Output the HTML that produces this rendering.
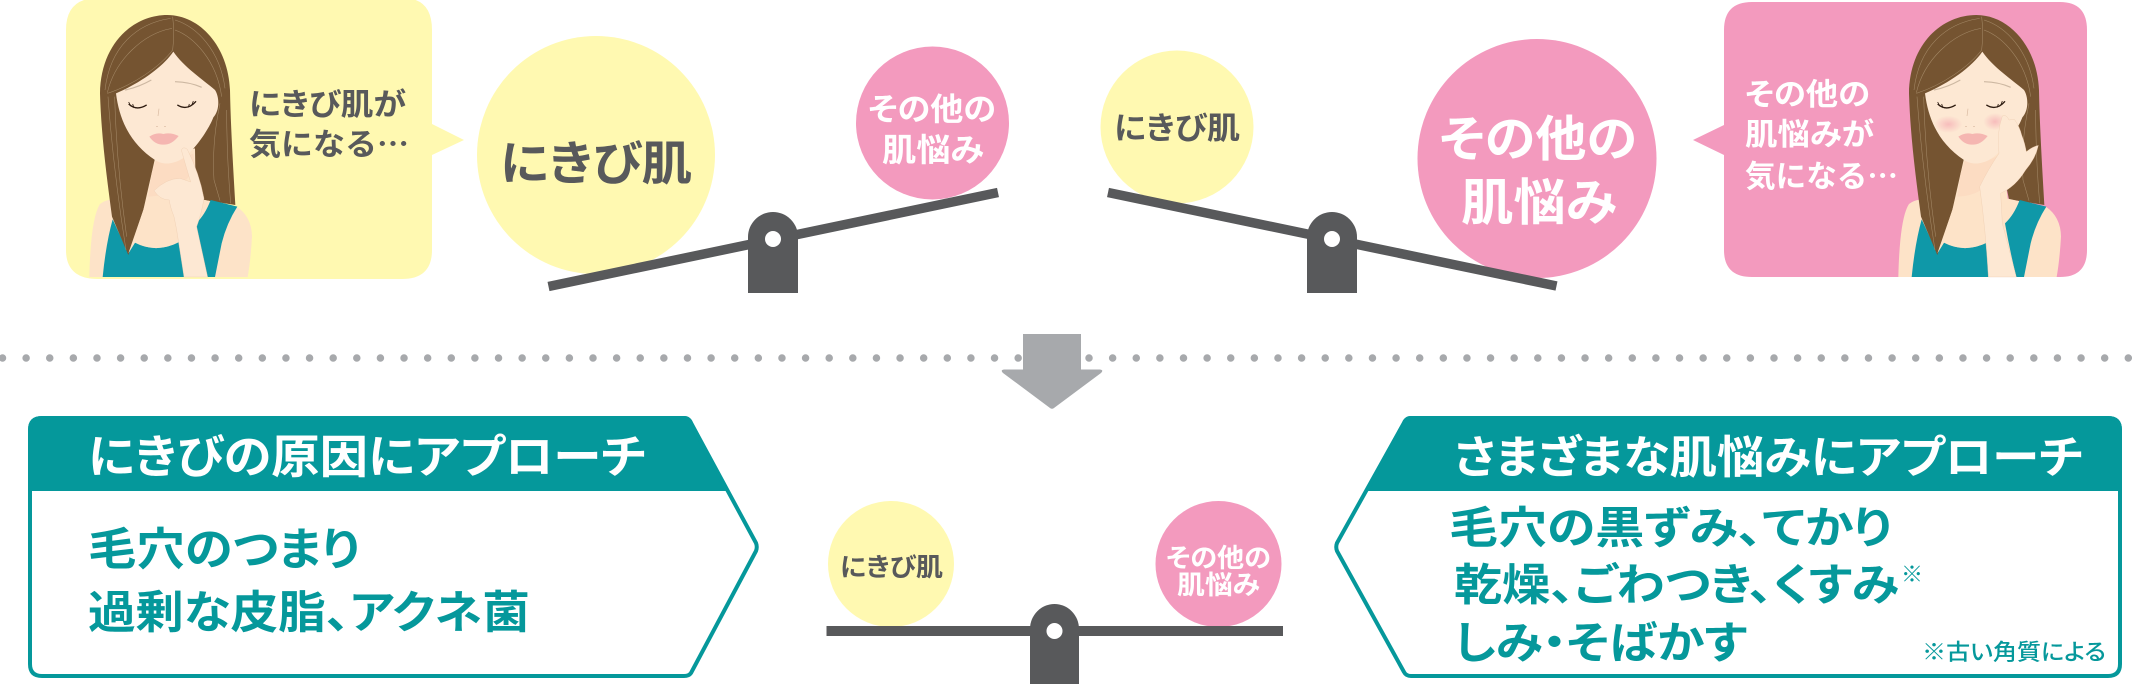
<!DOCTYPE html>
<html lang="ja"><head><meta charset="utf-8"><title>diagram</title>
<style>
html,body{margin:0;padding:0;background:#fff;width:2132px;height:684px;overflow:hidden}
svg{display:block}
text{font-family:"Liberation Sans","Noto Sans CJK JP",sans-serif;font-weight:700;font-feature-settings:"palt"}
text.c{font-family:"Noto Sans CJK JP",sans-serif}
</style></head><body>
<svg xmlns="http://www.w3.org/2000/svg" width="2132" height="684" viewBox="0 0 2132 684">
<defs>
<radialGradient id="bl"><stop offset="0" stop-color="#f5aeb4" stop-opacity=".75"/><stop offset="1" stop-color="#f5aeb4" stop-opacity="0"/></radialGradient>
<g id="base">
  <path d="M28 801 Q32 625 60 582 Q80 566 104 570 L470 590 Q515 620 516 680 Q512 750 503 801Z" fill="#fde3c8"/>
  <path d="M68 801 Q78 700 98 628 L145 730 L165 698 Q230 732 298 695 L312 801Z" fill="#0f98a8"/>
  <path d="M262 15 C160 15 62 100 60 250 C64 380 80 500 96 620 L145 735 L190 600 L225 490 L340 430 L350 520 L360 568 L466 585 C460 480 452 350 450 240 C445 110 360 15 262 15Z" fill="#755431"/>
  <path d="M225 445 L345 415 L346 480 L356 566 L394 574 L350 650 L300 695 Q230 732 165 698 L145 730 L190 600Z" fill="#fde3c8"/>
  <path d="M348 640 Q375 615 392 570 L472 590 Q440 640 425 700 L405 801 L382 801Q362 720 348 640Z" fill="#0f98a8"/>
  <path d="M228 450 Q260 475 340 430 L345 480 Q280 560 205 560 L215 490Z" fill="#fcdcc2"/>
  <path d="M280 125 C250 170 180 220 108 250 C118 330 150 400 225 450 C245 463 270 465 300 450 C345 425 390 350 400 322 C420 300 418 260 405 240 C370 210 310 170 280 125Z" fill="#fde8d3"/>
  <g fill="none" stroke="#a58a68" stroke-width="1.6">
    <path d="M272 25 C170 40 90 110 75 240"/><path d="M276 55 C190 70 105 150 82 248"/>
    <path d="M278 20 Q284 70 278 120 C240 170 160 225 82 250"/>
    <path d="M285 30 C350 50 420 120 435 235"/><path d="M285 60 C340 80 410 150 425 260"/>
    <path d="M84 260 Q100 480 138 720"/><path d="M104 260 Q110 470 140 680"/>
    <path d="M420 280 Q395 400 402 510 L420 572"/><path d="M440 300 Q440 440 452 580"/>
  </g>
  <path d="M135 240 Q175 232 214 210" fill="none" stroke="#cdb8a2" stroke-width="3.5"/>
  <path d="M285 215 Q330 216 365 232" fill="none" stroke="#cdb8a2" stroke-width="3.5"/>
  <path d="M146 282 Q170 304 200 285 M292 285 Q322 304 348 274" fill="none" stroke="#2d1b10" stroke-width="4"/>
  <path d="M146 276 L152 288 M158 282 L162 294 M340 273 L336 284 M328 282 L325 292" fill="none" stroke="#2d1b10" stroke-width="2.5"/>
  <path d="M237 296 L234 318 M228 350 h6 M252 350 h6" fill="none" stroke="#d8b9a0" stroke-width="2"/>
  <path d="M208 380 Q228 366 250 372 Q272 366 296 378 Q275 405 250 404 Q225 405 208 380Z" fill="#f5b6b1"/>
</g>
</defs>

<!-- dotted separator -->
<line x1="2.5" y1="358" x2="2132" y2="358" stroke="#a7a9ac" stroke-width="7.5" stroke-linecap="round" stroke-dasharray="0 23.62"/>

<!-- arrow -->
<path d="M1023 334 H1081 V369.5 H1100 Q1104 370 1101 373 L1054 408 Q1052 409.5 1050 408 L1003 373 Q1000 370 1004 369.5 H1023Z" fill="#a7a9ac"/>

<!-- top left box -->
<path d="M98 -2 H403 Q432 -2 432 30 V124 L464 140 L432 155 V250 Q432 279 402 279 H98 Q66 279 66 250 V30 Q66 -2 98 -2Z" fill="#fff9b1"/>
<g transform="translate(80,10) scale(.33333)">
  <use href="#base"/>
  <path d="M312 801 L290 660 L282 620 Q270 590 268 570 Q240 570 222 542 Q260 505 300 505 L332 516 Q318 470 304 420 Q310 408 322 418 Q358 490 372 565 Q365 610 350 650 L383 801Z" fill="#fde8d3" stroke="#ecc8ac" stroke-width="1"/>
</g>
<text x="249" y="115" font-size="30.5" fill="#58595b" textLength="157" lengthAdjust="spacingAndGlyphs">にきび肌が</text>
<text class="c" x="249" y="155" font-size="30.5" fill="#58595b" textLength="160" lengthAdjust="spacingAndGlyphs" style="font-feature-settings:normal">気になる…</text>

<!-- big yellow -->
<circle cx="596" cy="155" r="119" fill="#fff9b1"/>
<text x="500" y="180" font-size="47" fill="#58595b" textLength="192" lengthAdjust="spacingAndGlyphs">にきび肌</text>

<!-- seesaw 1 -->
<circle cx="932.5" cy="123" r="76.5" fill="#f39abe"/>
<text x="868" y="120" font-size="31.5" fill="#fff" textLength="128" lengthAdjust="spacingAndGlyphs">その他の</text>
<text x="882" y="161" font-size="32" fill="#fff" textLength="102" lengthAdjust="spacingAndGlyphs">肌悩み</text>
<line x1="548.5" y1="286.5" x2="998" y2="192.5" stroke="#58595b" stroke-width="9.5"/>
<path d="M748 293 V237 A25 25 0 0 1 798 237 V293Z" fill="#58595b"/>
<circle cx="773" cy="239" r="8" fill="#fff"/>

<!-- seesaw 2 -->
<circle cx="1177" cy="127" r="76.5" fill="#fff9b1"/>
<text x="1114" y="139" font-size="31" fill="#58595b" textLength="126" lengthAdjust="spacingAndGlyphs">にきび肌</text>
<circle cx="1537" cy="158.5" r="119.5" fill="#f39abe"/>
<text x="1439" y="156" font-size="49" fill="#fff" textLength="198" lengthAdjust="spacingAndGlyphs">その他の</text>
<text x="1461" y="220" font-size="50" fill="#fff" textLength="156" lengthAdjust="spacingAndGlyphs">肌悩み</text>
<line x1="1108" y1="192.5" x2="1556.5" y2="286" stroke="#58595b" stroke-width="9.5"/>
<path d="M1307 293 V237 A25 25 0 0 1 1357 237 V293Z" fill="#58595b"/>
<circle cx="1332" cy="239" r="8" fill="#fff"/>

<!-- top right box -->
<path d="M1752 2 H2060 Q2087 2 2087 30 V250 Q2087 277 2060 277 H1752 Q1724 277 1724 250 V155 L1693 140 L1724 125 V30 Q1724 2 1752 2Z" fill="#f39abe"/>
<g transform="translate(1889,10) scale(.33333)">
  <use href="#base"/>
  <ellipse cx="178" cy="343" rx="42" ry="26" fill="url(#bl)"/>
  <ellipse cx="318" cy="335" rx="35" ry="26" fill="url(#bl)"/>
  <path d="M298 801 Q290 660 272 530 Q296 480 330 430 Q322 370 340 318 Q352 312 360 330 L376 328 Q392 350 398 375 Q408 400 412 425 Q430 410 448 406 Q440 445 410 480 Q380 530 335 550 L340 640 L382 801Z" fill="#fde8d3" stroke="#ecc8ac" stroke-width="1"/>
</g>
<text x="1745" y="105" font-size="30.5" fill="#fff" textLength="125" lengthAdjust="spacingAndGlyphs">その他の</text>
<text x="1745" y="145" font-size="30.5" fill="#fff" textLength="129" lengthAdjust="spacingAndGlyphs">肌悩みが</text>
<text class="c" x="1745" y="187" font-size="30.5" fill="#fff" textLength="153" lengthAdjust="spacingAndGlyphs" style="font-feature-settings:normal">気になる…</text>

<!-- left panel -->
<path d="M42 418 H684 Q689 418 691 423 L756 543 Q757.5 547 756 551 L691 673 Q689 676 684 676 H42 Q30 676 30 664 V430 Q30 418 42 418Z" fill="#fff" stroke="#05989b" stroke-width="4" stroke-linejoin="round"/>
<path d="M30 489 V430 Q30 418 42 418 H684 Q689 418 691 423 L726 489Z" fill="#05989b" stroke="#05989b" stroke-width="4" stroke-linejoin="round"/>
<text x="88" y="473" font-size="46" fill="#fff" textLength="558" lengthAdjust="spacingAndGlyphs">にきびの原因にアプローチ</text>
<text x="88" y="565" font-size="45" fill="#05989b" textLength="272" lengthAdjust="spacingAndGlyphs">毛穴のつまり</text>
<text x="88" y="628" font-size="45" fill="#05989b" textLength="442" lengthAdjust="spacingAndGlyphs">過剰な皮脂、アクネ菌</text>

<!-- right panel -->
<path d="M1411 418 H2108 Q2120 418 2120 430 V664 Q2120 676 2108 676 H1411 Q1406 676 1404 672 L1337 551 Q1335.5 547 1337 543 L1404 423 Q1406 418 1411 418Z" fill="#fff" stroke="#05989b" stroke-width="4" stroke-linejoin="round"/>
<path d="M2120 489 V430 Q2120 418 2108 418 H1411 Q1406 418 1404 423 L1367.5 489Z" fill="#05989b" stroke="#05989b" stroke-width="4" stroke-linejoin="round"/>
<text x="1454" y="473" font-size="45" fill="#fff" textLength="629" lengthAdjust="spacingAndGlyphs">さまざまな肌悩みにアプローチ</text>
<text x="1449" y="543" font-size="44" fill="#05989b" textLength="443" lengthAdjust="spacingAndGlyphs">毛穴の黒ずみ、てかり</text>
<text x="1454" y="600" font-size="44" fill="#05989b" textLength="445" lengthAdjust="spacingAndGlyphs">乾燥、ごわつき、くすみ</text>
<text x="1901" y="582" font-size="22" fill="#05989b" style="font-weight:400">※</text>
<text x="1454" y="658" font-size="44" fill="#05989b" textLength="293" lengthAdjust="spacingAndGlyphs">しみ・そばかす</text>
<text x="1922" y="660" font-size="22.5" fill="#05989b" style="font-weight:500" textLength="184" lengthAdjust="spacingAndGlyphs">※古い角質による</text>

<!-- bottom seesaw -->
<circle cx="891" cy="564" r="63" fill="#fff9b1"/>
<text x="840" y="576" font-size="25.5" fill="#58595b" textLength="103" lengthAdjust="spacingAndGlyphs">にきび肌</text>
<circle cx="1218.5" cy="564" r="63" fill="#f39abe"/>
<text x="1166" y="567" font-size="26" fill="#fff" textLength="105" lengthAdjust="spacingAndGlyphs">その他の</text>
<text x="1177" y="594" font-size="26" fill="#fff" textLength="83" lengthAdjust="spacingAndGlyphs">肌悩み</text>
<rect x="826.5" y="626" width="456.5" height="10" fill="#58595b"/>
<path d="M1030 684 V629 A24.5 25 0 0 1 1079 629 V684Z" fill="#58595b"/>
<circle cx="1054.5" cy="631" r="8" fill="#fff"/>
</svg>
</body></html>
